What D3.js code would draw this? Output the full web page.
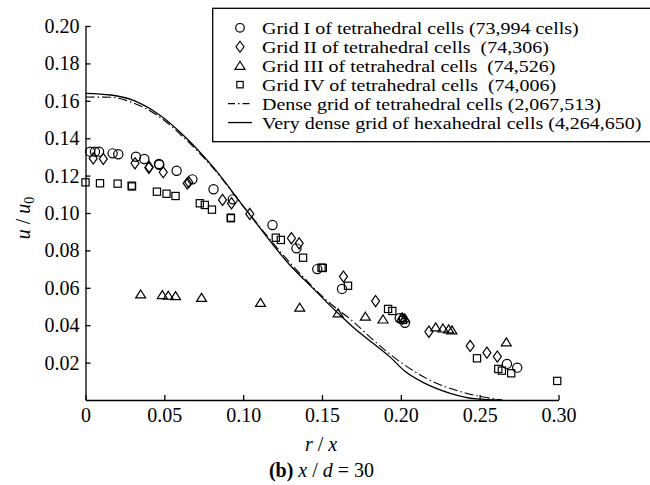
<!DOCTYPE html>
<html><head><meta charset="utf-8">
<script src="https://cdn.jsdelivr.net/npm/d3@7"></script>
<style>
body{margin:0;background:#fff;}
svg{display:block;font-family:"Liberation Serif","Times New Roman",serif;}
text{fill:#000;}
</style></head>
<body><svg id="c" width="650" height="485"></svg>
<script>
// ---- data ----
const xTicks = [0, 0.05, 0.10, 0.15, 0.20, 0.25, 0.30];
const xTickLabels = ["0", "0.05", "0.10", "0.15", "0.20", "0.25", "0.30"];
const yTicks = [0.02, 0.04, 0.06, 0.08, 0.10, 0.12, 0.14, 0.16, 0.18, 0.20];
const yTickLabels = ["0.02","0.04","0.06","0.08","0.10","0.12","0.14","0.16","0.18","0.20"];

const legendLabels = [
  "Grid I of tetrahedral cells (73,994 cells)",
  "Grid II of tetrahedral cells  (74,306)",
  "Grid III of tetrahedral cells  (74,526)",
  "Grid IV of tetrahedral cells  (74,006)",
  "Dense grid of tetrahedral cells (2,067,513)",
  "Very dense grid of hexahedral cells (4,264,650)"
];

const gridI = [[0.003,0.1328],[0.006,0.1328],[0.0086,0.1328],[0.0172,0.1319],[0.0208,0.1314],[0.032,0.1301],[0.0373,0.1289],[0.0466,0.1262],[0.0468,0.1258],[0.0578,0.1226],[0.0678,0.118],[0.0812,0.1127],[0.0934,0.1073],[0.1186,0.0936],[0.1338,0.0811],[0.147,0.0700],[0.1627,0.0594],[0.1993,0.0437],[0.2026,0.0413],[0.2673,0.0193],[0.2738,0.0173]];
const gridII = [[0.0049,0.1292],[0.0113,0.1289],[0.0314,0.1266],[0.0402,0.1242],[0.0404,0.1246],[0.0493,0.1218],[0.0645,0.1159],[0.0655,0.1165],[0.0869,0.107],[0.0926,0.1052],[0.1042,0.0995],[0.1306,0.0865],[0.1355,0.0838],[0.1636,0.066],[0.184,0.0529],[0.201,0.0435],[0.2178,0.0365],[0.244,0.0289],[0.2546,0.0253],[0.2612,0.0232]];
const gridIII = [[0.035,0.0565],[0.0487,0.0561],[0.0525,0.0558],[0.0571,0.0556],[0.0736,0.0547],[0.111,0.052],[0.1359,0.0494],[0.1602,0.0464],[0.1775,0.0446],[0.1887,0.0431],[0.2005,0.044],[0.2024,0.0437],[0.2221,0.0389],[0.2267,0.0383],[0.2303,0.0378],[0.2324,0.0373],[0.2669,0.0309]];
const gridIV = [[0,0.1164],[0.0092,0.1159],[0.0204,0.1157],[0.0293,0.1146],[0.0295,0.1142],[0.0453,0.1114],[0.0514,0.1103],[0.0571,0.1091],[0.0725,0.1052],[0.0757,0.1043],[0.0802,0.1018],[0.0922,0.0975],[0.0922,0.0972],[0.1207,0.0868],[0.1239,0.0856],[0.138,0.0761],[0.1497,0.0708],[0.1505,0.0706],[0.1665,0.0611],[0.1919,0.0487],[0.1946,0.0476],[0.2014,0.0428],[0.2483,0.0223],[0.2618,0.0166],[0.2641,0.0157],[0.27,0.0143],[0.2992,0.0102]];
const denseTet = [[0,0.162],[0.0155,0.1619],[0.030,0.159],[0.0472,0.1512],[0.064,0.139],[0.081,0.124],[0.101,0.1026],[0.1296,0.0735],[0.1359,0.0677],[0.1539,0.0526],[0.1697,0.042],[0.1813,0.033],[0.2024,0.0187],[0.2204,0.0098],[0.2415,0.0036],[0.2645,0]];
const veryDenseHex = [[0,0.164],[0.016,0.1631],[0.030,0.1604],[0.047,0.1524],[0.064,0.140],[0.081,0.1245],[0.101,0.1026],[0.1296,0.0722],[0.1443,0.0597],[0.1592,0.0472],[0.1718,0.0374],[0.1824,0.0303],[0.1929,0.0232],[0.2024,0.0155],[0.215,0.009],[0.2313,0.0036],[0.2479,0.0006],[0.2637,0]];

// ---- drawing ----
const svg = d3.select("#c");
const FS = 20;
const x = d3.scaleLinear().domain([0, 0.30]).range([85.5, 558.5]);
const y = d3.scaleLinear().domain([0, 0.20]).range([400, 26]);

const xAxis = d3.axisBottom(x).tickValues(xTicks).tickFormat((d,i)=>xTickLabels[i])
  .tickSizeInner(-5).tickSizeOuter(0).tickPadding(8);
const yAxis = d3.axisLeft(y).tickValues(yTicks).tickFormat((d,i)=>yTickLabels[i])
  .tickSizeInner(-5).tickSizeOuter(0).tickPadding(6);

const gx = svg.append("g").attr("transform","translate(0,400)").call(xAxis);
const gy = svg.append("g").attr("transform","translate(85.5,0)").call(yAxis);
[gx, gy].forEach(g=>{
  g.selectAll("path,line").attr("stroke","#000").attr("stroke-width",1.3);
  g.selectAll("text").attr("font-size",FS).attr("font-family",'"Liberation Serif",serif').attr("fill","#000");
});

// lines
const line = d3.line().x(d=>x(d[0])).y(d=>y(d[1])).curve(d3.curveMonotoneX);
svg.append("path").datum(veryDenseHex).attr("d",line).attr("fill","none")
  .attr("stroke","#000").attr("stroke-width",1.3);
svg.append("path").datum(denseTet).attr("d",line).attr("fill","none")
  .attr("stroke","#000").attr("stroke-width",1.1).attr("stroke-dasharray","9,3,1.5,3");

// marker shapes
function circleM(g, r){ g.append("circle").attr("r",r); }
function diamondM(g, w, h){ g.append("path").attr("d",`M0,${-h}L${w},0L0,${h}L${-w},0Z`); }
function triM(g, w, h){ g.append("path").attr("d",`M0,${-h*0.55}L${w},${h*0.45}L${-w},${h*0.45}Z`); }
function squareM(g, s){ g.append("rect").attr("x",-s).attr("y",-s).attr("width",2*s).attr("height",2*s); }

const mk = svg.append("g").attr("fill","none").attr("stroke","#000").attr("stroke-width",1.2);
function plot(data, fn){
  data.forEach(d=>{
    const g = mk.append("g").attr("transform",`translate(${x(d[0])},${y(d[1])})`);
    fn(g);
  });
}
plot(gridI, g=>circleM(g,4.6));
plot(gridII, g=>diamondM(g,4,5.6));
plot(gridIII, g=>triM(g,5,8));
plot(gridIV, g=>squareM(g,3.6));

// legend
const LFS = 16.8;
const lg = svg.append("g");
lg.append("rect").attr("x",212.7).attr("y",8.3).attr("width",445).attr("height",133.4)
  .attr("fill","#fff").attr("stroke","#000").attr("stroke-width",1.3);
const legendMarkers = [
  g=>circleM(g,4.3), g=>diamondM(g,4,5.5), g=>triM(g,5,8), g=>squareM(g,3.2), null, null
];
legendLabels.forEach((lab,i)=>{
  const base = 34.3 + i*18.95;
  const cy = base - 6.5;
  const mg = lg.append("g").attr("transform",`translate(240,${cy})`)
    .attr("fill","none").attr("stroke","#000").attr("stroke-width",1.2);
  if (legendMarkers[i]) legendMarkers[i](mg);
  else {
    mg.append("line").attr("x1",-12).attr("x2",12).attr("y1",0).attr("y2",0)
      .attr("stroke-width", i===5?1.3:1.1).attr("stroke-dasharray", i===4?"7,3,1.5,3":null);
  }
  const t = lg.append("text").attr("x",262).attr("y",base).attr("font-size",LFS)
    .style("white-space","pre").text(lab);
  const w = t.node().getComputedTextLength();
  t.attr("textLength", w*FS/LFS).attr("lengthAdjust","spacingAndGlyphs");
});

// axis titles
const xt = svg.append("text").attr("x",321).attr("y",451).attr("text-anchor","middle").attr("font-size",FS);
xt.append("tspan").attr("font-style","italic").text("r");
xt.append("tspan").text(" / ");
xt.append("tspan").attr("font-style","italic").text("x");

const yt = svg.append("text").attr("transform","translate(30,218) rotate(-90)").attr("text-anchor","middle").attr("font-size",FS);
yt.append("tspan").attr("font-style","italic").text("u");
yt.append("tspan").text(" / ");
yt.append("tspan").attr("font-style","italic").text("u");
yt.append("tspan").attr("font-size",14).attr("dy",4).text("0");

const cap = svg.append("text").attr("x",321.5).attr("y",477).attr("text-anchor","middle").attr("font-size",FS);
cap.append("tspan").attr("font-weight","bold").text("(b)");
cap.append("tspan").attr("font-style","italic").text(" x");
cap.append("tspan").text(" / ");
cap.append("tspan").attr("font-style","italic").text("d");
cap.append("tspan").text(" = 30");
</script></body></html>
